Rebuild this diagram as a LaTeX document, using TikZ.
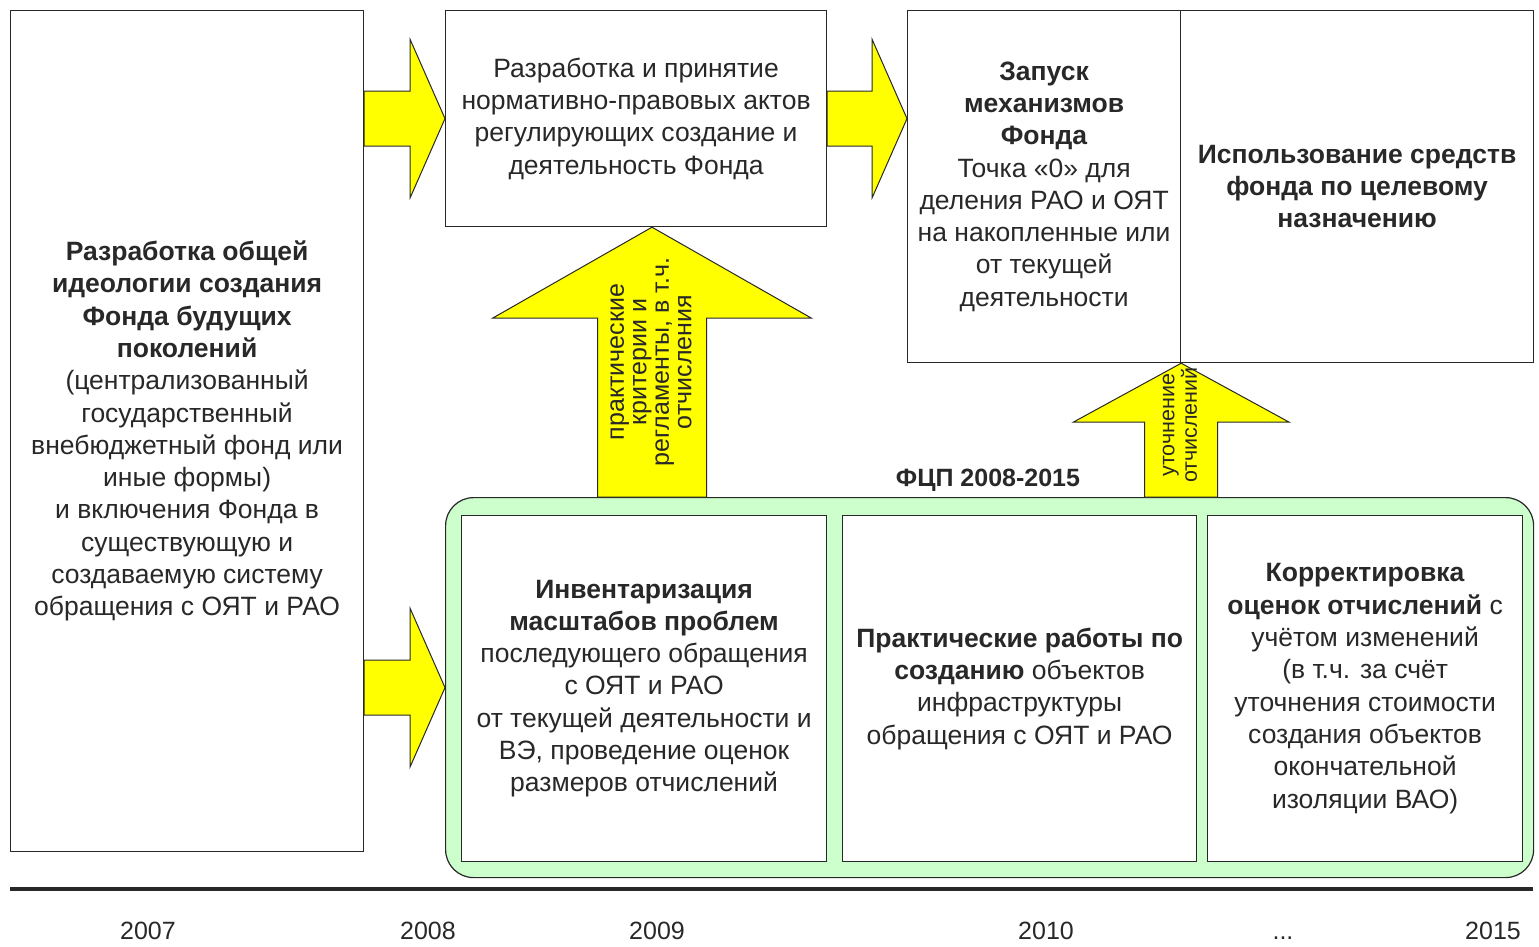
\documentclass[tikz,border=0pt]{standalone}
\usepackage{fontspec}
\setmainfont{Liberation Sans}
\usetikzlibrary{calc}
\definecolor[named]{FundYellow}{RGB}{255,255,0}
\definecolor[named]{FcpGreen}{RGB}{204,255,204}
\definecolor[named]{InkGray}{RGB}{40,40,40}
\newcommand{\rightblock}[2]{%
  \path[blockarrow] let \p1=#1, \p2=#2 in
    (\x1,\y2+27.5pt) -- (\x2-35pt,\y2+27.5pt) -- (\x2-35pt,\y2+79.5pt) -- (\p2)
    -- (\x2-35pt,\y2-79.5pt) -- (\x2-35pt,\y2-27.5pt) -- (\x1,\y2-27.5pt) -- cycle;
}
\newcommand{\upblock}[5]{%
  \path[blockarrow] let \p1=#1, \p2=#2 in
    (\x2-#3,\y1) -- (\x2-#3,\y2-#5) -- (\x2-#4,\y2-#5) -- (\p2)
    -- (\x2+#4,\y2-#5) -- (\x2+#3,\y2-#5) -- (\x2+#3,\y1) -- cycle;
}
\tikzset{
  stage/.style={draw=InkGray,line width=1.2pt,fill=white,align=center,
    text=InkGray,font=\fontsize{26.5}{32.3}\selectfont,inner sep=0pt,anchor=north west},
  blockarrow/.style={draw=InkGray,line width=1pt,fill=FundYellow},
  sidetext/.style={align=center,rotate=90,text=InkGray,
    font=\fontsize{21.5}{22.5}\selectfont},
  yearlabel/.style={text=InkGray,font=\fontsize{25}{30}\selectfont,anchor=base}
}

\begin{document}
\begin{tikzpicture}[x=1pt,y=-1pt]
  \useasboundingbox (0,0) rectangle (1539,946);

  % stages {{{
  \node[stage,minimum width=353,minimum height=841] (ideo) at (10,10)
    {\textbf{Разработка общей}\\\textbf{идеологии создания}\\
     \textbf{Фонда будущих}\\\textbf{поколений}\\
     (централизованный\\государственный\\внебюджетный фонд или\\
     иные формы)\\и включения Фонда в\\существующую и\\
     создаваемую систему\\обращения с ОЯТ и РАО};
  \node[stage,minimum width=381,minimum height=216] (law) at (445,10)
    {Разработка и принятие\\нормативно-правовых актов\\
     регулирующих создание и\\деятельность Фонда};
  \node[stage,minimum width=273,minimum height=352] (launch) at (907,10)
    {\textbf{Запуск}\\\textbf{механизмов}\\\textbf{Фонда}\\
     Точка «0» для\\деления РАО и ОЯТ\\на накопленные или\\
     от текущей\\деятельности};
  \node[stage,minimum width=353,minimum height=352] (use) at (1180,10)
    {\textbf{Использование средств}\\\textbf{фонда по целевому}\\
     \textbf{назначению}};
  % }}}

  % FCP 2008-2015 {{{
  \node[draw=InkGray,line width=1.2pt,fill=FcpGreen,rounded corners=28pt,
    minimum width=1088,minimum height=380,anchor=north west] (fcp) at (445,497) {};
  \node[text=InkGray,font=\fontsize{25}{30}\selectfont\bfseries] (fcplabel)
    at (988,480) {ФЦП 2008-2015};
  \begin{scope}[every node/.append style={fill=FcpGreen}]
    \node[stage,minimum width=365,minimum height=346] (inv) at (461,515)
      {\textbf{Инвентаризация}\\\textbf{масштабов проблем}\\
       последующего обращения\\с ОЯТ и РАО\\
       от текущей деятельности и\\ВЭ, проведение оценок\\
       размеров отчислений};
    \node[stage,minimum width=354,minimum height=346] (works) at (842,515)
      {\textbf{Практические работы по}\\\textbf{созданию} объектов\\
       инфраструктуры\\обращения с ОЯТ и РАО};
    \node[stage,minimum width=315,minimum height=346] (adjust) at (1207,515)
      {\textbf{Корректировка}\\\textbf{оценок отчислений} с\\
       учётом изменений\\(в т.ч. за счёт\\уточнения стоимости\\
       создания объектов\\окончательной\\изоляции ВАО)};
  \end{scope}
  % }}}

  % arrows {{{
  \rightblock{(ideo.east)}{(law.west)}
  \rightblock{(law.east)}{(launch.west |- law.west)}
  \rightblock{(ideo.east)}{(fcp.west)}
  \upblock{(fcp.north)}{($(law.south west)+(207,0)$)}{54.5pt}{159.5pt}{91pt}
  \upblock{(fcp.north)}{(launch.south east)}{36.5pt}{108pt}{59pt}
  \node[sidetext,font=\fontsize{25}{22.5}\selectfont] (crit) at (651,362)
    {практические\\критерии и\\регламенты, в т.ч.\\отчисления};
  \node[sidetext] (refine) at (1180,425) {уточнение\\отчислений};
  % }}}

  % time line {{{
  \coordinate (tl) at (10,889);
  \coordinate (tr) at (1533,889);
  \draw[InkGray,line width=4pt] (tl) -- (tr);
  \node[yearlabel] (y2007) at (148,939) {2007};
  \node[yearlabel] (y2008) at (428,939) {2008};
  \node[yearlabel] (y2009) at (657,939) {2009};
  \node[yearlabel] (y2010) at (1046,939) {2010};
  \node[yearlabel] (ydots) at (1283,939) {...};
  \node[yearlabel] (y2015) at (1493,939) {2015};
  % }}}
\end{tikzpicture}
\end{document}
